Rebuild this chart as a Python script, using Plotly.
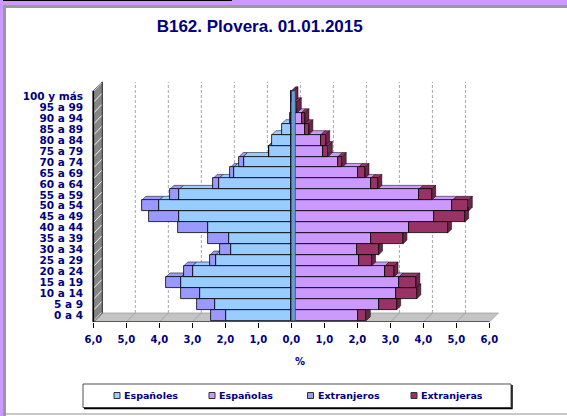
import plotly.graph_objects as go

# ---------------- data ----------------
age_groups = ["0 a 4", "5 a 9", "10 a 14", "15 a 19", "20 a 24", "25 a 29", "30 a 34",
              "35 a 39", "40 a 44", "45 a 49", "50 a 54", "55 a 59", "60 a 64", "65 a 69",
              "70 a 74", "75 a 79", "80 a 84", "85 a 89", "90 a 94", "95 a 99", "100 y más"]
espanoles = [1.98, 2.31, 2.76, 3.34, 2.99, 2.29, 1.83, 1.90, 2.52, 3.39, 4.00, 3.39, 2.19,
             1.75, 1.45, 0.67, 0.59, 0.29, 0.05, 0.02, 0.0]
extranjeros = [0.44, 0.56, 0.58, 0.46, 0.27, 0.18, 0.32, 0.62, 0.90, 0.93, 0.53, 0.29, 0.18,
               0.10, 0.13, 0.02, 0.0, 0.0, 0.0, 0.0, 0.0]
espanolas = [2.03, 2.66, 3.16, 3.26, 2.84, 2.05, 2.00, 2.42, 3.55, 4.32, 4.88, 3.87, 2.41,
             2.03, 1.42, 0.97, 0.90, 0.40, 0.31, 0.08, 0.03]
extranjeras = [0.24, 0.53, 0.64, 0.51, 0.27, 0.38, 0.64, 0.96, 1.18, 0.93, 0.48, 0.38, 0.21,
               0.20, 0.12, 0.15, 0.14, 0.13, 0.10, 0.10, 0.05]
x_ticks = [-6, -5, -4, -3, -2, -1, 0, 1, 2, 3, 4, 5, 6]
x_tick_labels = ["6,0", "5,0", "4,0", "3,0", "2,0", "1,0", "0,0", "1,0", "2,0", "3,0", "4,0", "5,0", "6,0"]
legend_names = ["Españoles", "Españolas", "Extranjeros", "Extranjeras"]
title_text = "B162. Plovera. 01.01.2015"

# ---------------- styles ----------------
C_ESM = "#99CCFF"   # Españoles
C_ESF = "#CC99FF"   # Españolas
C_EXM = "#9999FF"   # Extranjeros
C_EXF = "#993366"   # Extranjeras
SIDE = {C_ESM: "#6F9FD0", C_ESF: "#A070D0", C_EXM: "#7070D8", C_EXF: "#6E2449"}
NAVY = "#000080"
FONT = "DejaVu Sans"

W, H = 567, 416
L, R, T, B = 90, 66, 81, 94
XR = [-6.1, 6.35]
YR = [-0.62, 21.4]
pw, ph = W - L - R, H - T - B
ppx = pw / (XR[1] - XR[0])
ppy = ph / (YR[1] - YR[0])
bdx, bdy = 4 / ppx, 4 / ppy      # bar depth
wdx, wdy = 9 / ppx, 9 / ppy      # wall / floor depth
Y0 = YR[0]


def pxp(xp):
    return (xp - L) / pw


def pyp(yp):
    return (H - B - yp) / ph


ypos = list(range(len(age_groups)))

fig = go.Figure()
line = dict(color="#000000", width=0.8)
fig.add_bar(y=ypos, x=[-v for v in espanoles], orientation="h", name=legend_names[0],
            marker=dict(color=C_ESM, line=line), width=1, showlegend=False)
fig.add_bar(y=ypos, x=[-v for v in extranjeros], orientation="h", name=legend_names[2],
            marker=dict(color=C_EXM, line=line), width=1, showlegend=False)
fig.add_bar(y=ypos, x=espanolas, orientation="h", name=legend_names[1],
            marker=dict(color=C_ESF, line=line), width=1, showlegend=False)
fig.add_bar(y=ypos, x=extranjeras, orientation="h", name=legend_names[3],
            marker=dict(color=C_EXF, line=line), width=1, showlegend=False)

shapes = []


def poly(pts):
    return "M " + " L ".join(f"{a:.4f},{b:.4f}" for a, b in pts) + " Z"


# floor
shapes.append(dict(type="path", xref="x", yref="y", layer="below",
                   path=poly([(-6, Y0), (6, Y0), (6 + wdx, Y0 + wdy), (-6 + wdx, Y0 + wdy)]),
                   fillcolor="#C4C4C4", line=dict(color="#8C8C8C", width=0.6)))
for v in x_ticks[1:-1]:
    shapes.append(dict(type="line", xref="x", yref="y", layer="below",
                       x0=v, y0=Y0, x1=v + wdx, y1=Y0 + wdy,
                       line=dict(color="#9A9A9A", width=0.8)))
# left wall
wtop = len(age_groups) - 0.5
shapes.append(dict(type="path", xref="x", yref="y", layer="below",
                   path=poly([(-6, Y0), (-6 + wdx, Y0 + wdy), (-6 + wdx, wtop + wdy), (-6, wtop)]),
                   fillcolor="#858585", line=dict(color="#202020", width=1)))
for k in range(len(age_groups) + 1):
    yk = k - 0.5
    shapes.append(dict(type="line", xref="x", yref="y", layer="below",
                       x0=-6 + 0.02, y0=yk, x1=-6 + wdx - 0.02, y1=yk + wdy * 0.9,
                       line=dict(color="#F0F0F0", width=1)))
shapes.append(dict(type="line", xref="x", yref="y", layer="below",
                   x0=-6, y0=Y0, x1=-6, y1=wtop, line=dict(color="#000000", width=1.6)))
# back-wall gridlines
for v in x_ticks[1:-1]:
    shapes.append(dict(type="line", xref="x", yref="y", layer="below",
                       x0=v + wdx, y0=Y0 + wdy, x1=v + wdx, y1=wtop + wdy,
                       line=dict(color="#A8A8A8", width=1, dash="3px,2px")))

# bar 3D faces
face_line = dict(color="#000000", width=0.5)
for i in ypos:
    segs = [(-(espanoles[i] + extranjeros[i]), -espanoles[i], C_EXM),
            (-espanoles[i], 0.0, C_ESM),
            (0.0, espanolas[i], C_ESF),
            (espanolas[i], espanolas[i] + extranjeras[i], C_EXF)]
    top = i + 0.5
    for x0, x1, c in segs:
        if x1 - x0 <= 0:
            continue
        shapes.append(dict(type="path", xref="x", yref="y", layer="below",
                           path=poly([(x0, top), (x1, top), (x1 + bdx, top + bdy), (x0 + bdx, top + bdy)]),
                           fillcolor=c, line=face_line))
    xr = espanolas[i] + extranjeras[i]
    cs = C_EXF if extranjeras[i] > 0 else C_ESF
    shapes.append(dict(type="path", xref="x", yref="y", layer="below",
                       path=poly([(xr, i - 0.5), (xr, top), (xr + bdx, top + bdy), (xr + bdx, i - 0.5 + bdy)]),
                       fillcolor=SIDE[cs], line=face_line))

# centre strip (side face of the left bars at 0)
shapes.append(dict(type="rect", xref="x", yref="y", layer="above",
                   x0=0, x1=bdx, y0=-0.5, y1=wtop,
                   fillcolor="#6A9CD0", line=dict(color="#1F3560", width=0.6)))
# x axis line
shapes.append(dict(type="line", xref="x", yref="y", layer="above",
                   x0=-6, y0=Y0, x1=6, y1=Y0, line=dict(color="#000000", width=1)))

# frame decorations
def prect(x0, y0, x1, y1, color):
    return dict(type="rect", xref="paper", yref="paper", layer="below",
                x0=pxp(x0), x1=pxp(x1), y0=pyp(y1), y1=pyp(y0),
                fillcolor=color, line=dict(width=0))


shapes += [prect(0, 0, 567, 5, "#CC99FF"), prect(3, 5, 567, 8, "#9A9A9A"),
           prect(0, 0, 232, 1, "#000000"), prect(0, 0, 3, 416, "#CC99FF"),
           prect(3, 5, 6, 416, "#9A9A9A"), prect(6, 413, 567, 415, "#C8C8C8")]

# legend box
shapes.append(dict(type="rect", xref="paper", yref="paper", x0=pxp(83), x1=pxp(511),
                   y0=pyp(407.5), y1=pyp(384), line=dict(color="#505050", width=1),
                   fillcolor="rgba(0,0,0,0)"))
shapes.append(dict(type="line", xref="paper", yref="paper", x0=pxp(512), x1=pxp(512),
                   y0=pyp(385), y1=pyp(408.5), line=dict(color="#000000", width=1.5)))
shapes.append(dict(type="line", xref="paper", yref="paper", x0=pxp(84), x1=pxp(512.5),
                   y0=pyp(408.5), y1=pyp(408.5), line=dict(color="#000000", width=1.5)))

annotations = []
leg_cx = [117, 212, 310.5, 414]
leg_cols = [C_ESM, C_ESF, C_EXM, C_EXF]
for cx, col, name in zip(leg_cx, leg_cols, legend_names):
    shapes.append(dict(type="rect", xref="paper", yref="paper",
                       x0=pxp(cx - 3), x1=pxp(cx + 3), y0=pyp(398.5), y1=pyp(392.5),
                       fillcolor=col, line=dict(color="#303030", width=1)))
    annotations.append(dict(xref="paper", yref="paper", x=pxp(cx + 5), y=pyp(395.5),
                            xanchor="left", yanchor="middle", showarrow=False, text=name,
                            font=dict(family=FONT, size=9.5, color=NAVY, weight="bold")))

annotations.append(dict(xref="paper", yref="paper", x=pxp(300), y=pyp(361),
                        xanchor="center", yanchor="middle", showarrow=False, text="%",
                        font=dict(family=FONT, size=10, color=NAVY, weight="bold")))

fig.update_layout(
    width=W, height=H,
    margin=dict(l=L, r=R, t=T, b=B, pad=0),
    paper_bgcolor="white", plot_bgcolor="white",
    barmode="relative", bargap=0, showlegend=False,
    title=dict(text=title_text, x=259.7 / W, xref="container", xanchor="center",
               y=1 - 25.7 / H, yref="container", yanchor="middle",
               font=dict(family="Liberation Sans", size=17, color=NAVY, weight="bold")),
    xaxis=dict(range=XR, tickvals=x_ticks, ticktext=x_tick_labels, ticks="outside",
               ticklen=5, tickcolor="#000000", showline=False, showgrid=False,
               zeroline=False, ticklabelstandoff=3,
               tickfont=dict(family=FONT, size=10, color=NAVY, weight="bold")),
    yaxis=dict(range=YR, tickvals=ypos, ticktext=age_groups, ticks="", showline=False,
               showgrid=False, zeroline=False, ticklabelstandoff=6,
               tickfont=dict(family=FONT, size=10.5, color=NAVY, weight="bold")),
    shapes=shapes, annotations=annotations,
)

fig.write_html("out.html", config={"displayModeBar": False},
               post_script="document.body.style.margin='0';document.body.style.overflow='hidden';")
